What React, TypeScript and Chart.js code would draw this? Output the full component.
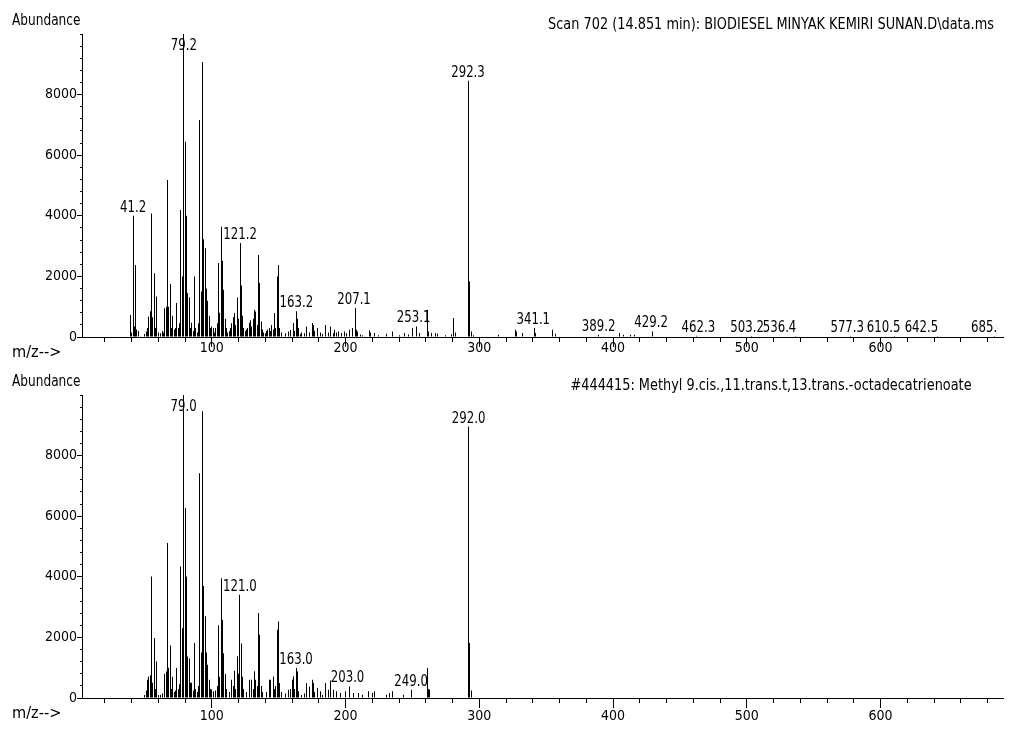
import React, { useEffect, useRef } from 'react';
import { Chart, registerables } from 'chart.js';

Chart.register(...registerables);

const FONT_FAMILY = "'DejaVu Sans Condensed', 'Liberation Sans Narrow', 'Arial Narrow', sans-serif";
const FONT_SIZE = 14;

const X_MIN = 3;
const X_MAX = 691.5;
const Y_MAX = 10000;
const X_TICK_STEP = 20;
const X_LABEL_STEP = 100;
const Y_TICK_STEP = 400;
const Y_LABEL_STEP = 2000;

// ---------- Top: sample scan ----------
const sampleTitle = 'Scan 702 (14.851 min): BIODIESEL MINYAK KEMIRI SUNAN.D\\data.ms';
const sampleMz = [
  39, 40, 41.2, 42, 43, 44, 45, 50, 51, 52, 53, 54, 55, 56, 57, 58, 59, 60, 62, 63, 64, 65, 66, 67, 68, 69,
  70, 71, 72, 73, 74, 75, 76, 77, 78, 79.2, 80, 81, 82, 83, 84, 85, 86, 87, 88, 89, 90, 91, 92, 93, 94, 95,
  96, 97, 98, 99, 100, 101, 102, 103, 104, 105, 106, 107, 108, 109, 110, 111, 112, 113, 114, 115, 116, 117,
  118, 119, 120, 121.2, 122, 123, 124, 125, 126, 127, 128, 129, 130, 131, 132, 133, 134, 135, 136, 137, 138,
  139, 140, 141, 142, 143, 144, 145, 146, 147, 148, 149, 150, 151, 152, 155, 157, 159, 161, 162, 163.2, 164,
  165, 166, 167, 169, 171, 173, 175, 176, 177, 179, 181, 183, 185, 187, 189, 191, 192, 193, 195, 197, 199,
  201, 203, 205, 207.1, 208, 209, 211, 213, 218, 219, 222, 225, 231, 235, 240, 244, 247, 250, 253.1, 255,
  261, 262, 264, 267, 269, 275, 279, 281, 282, 292.3, 293, 294, 296, 314, 327, 328, 332, 341.1, 342, 355,
  357, 389.2, 405, 408, 413, 416, 429.2, 462.3, 503.2, 536.4, 577.3, 610.5, 642.5, 685.4,
];
const sampleAbundance = [
  730, 150, 4000, 350, 2380, 250, 200, 100, 180, 300, 680, 850, 4080, 650, 2100, 300, 1340, 150, 120, 200, 150, 950, 1000, 5180, 1000, 1750,
  300, 700, 250, 300, 1120, 300, 450, 4190, 2000, 10000, 6440, 4000, 1450, 1300, 300, 470, 200, 2000, 300, 150, 450, 7160, 1500, 9080, 3230, 2930,
  1600, 1200, 700, 300, 350, 300, 150, 300, 450, 2440, 800, 3640, 2520, 1560, 600, 300, 150, 200, 300, 450, 650, 790,
  400, 1300, 600, 3100, 1700, 700, 300, 200, 250, 300, 470, 550, 350, 600, 900, 840, 400, 2710, 1780, 515, 250,
  150, 120, 200, 250, 296, 200, 400, 250, 790, 300, 2000, 2380, 296, 150, 120, 185, 230, 460, 200, 850, 600,
  300, 100, 150, 120, 350, 150, 460, 400, 200, 296, 150, 100, 400, 150, 350, 120, 240, 150, 185, 130, 185,
  120, 240, 296, 955, 240, 185, 80, 60, 220, 150, 130, 60, 110, 185, 60, 130, 80, 296, 350, 130,
  900, 185, 130, 130, 110, 60, 90, 625, 150, 8460, 1830, 185, 60, 76, 240, 185, 130, 296, 130, 240,
  110, 76, 130, 76, 76, 76, 185, 40, 30, 30, 30, 30, 30, 30,
];
const sampleLabelMz = [41.2, 79.2, 121.2, 163.2, 207.1, 253.1, 292.3, 341.1, 389.2, 429.2, 462.3, 503.2, 536.4, 577.3, 610.5, 642.5, 685.4];
const sampleLabelNudge = [0, 0, 0, 0, -1, -3, -1, -1, 0, -1, 2, -4, -16, -3, -11, -16, -7];

// ---------- Bottom: library spectrum ----------
const libraryTitle = '#444415: Methyl 9.cis.,11.trans.t,13.trans.-octadecatrienoate';
const libraryMz = [
  50, 51, 52, 53, 54, 55, 56, 57, 58, 59, 60, 62, 63, 65, 66, 67, 68, 69, 70, 71, 72, 73, 74, 75, 76, 77, 78,
  79, 80, 81, 82, 83, 84, 85, 86, 87, 88, 89, 90, 91, 92, 93, 94, 95, 96, 97, 98, 99, 100, 101, 103, 104,
  105, 106, 107, 108, 109, 110, 111, 113, 115, 116, 117, 118, 119, 120, 121, 122, 123, 124, 126, 128, 130,
  131, 132, 133, 134, 135, 136, 137, 138, 141, 143, 144, 146, 147, 148, 149, 150, 151, 152, 155, 157, 159,
  160, 161, 162, 163, 164, 165, 167, 169, 171, 173, 175, 176, 177, 179, 181, 183, 185, 187, 189, 191, 193,
  196, 200, 203, 206, 210, 213, 217, 220, 222, 231, 233, 235, 243, 249, 261, 262, 263, 292, 293, 294,
];
const libraryAbundance = [
  100, 250, 600, 713, 750, 4013, 500, 1980, 300, 1208, 100, 110, 150, 800, 878, 5115, 1000, 1730, 300, 700, 200, 250, 990, 300, 450, 4340, 2300,
  10000, 6270, 4010, 1370, 1300, 500, 500, 250, 1815, 300, 200, 400, 7420, 1500, 9460, 3700, 2700, 1500, 1100, 600, 300, 280, 220, 250, 400,
  2400, 700, 3950, 2584, 1480, 800, 300, 200, 600, 400, 900, 300, 1380, 800, 3410, 1800, 700, 300, 200, 600, 600,
  300, 880, 600, 400, 2805, 2090, 400, 200, 200, 600, 600, 710, 300, 400, 2254, 2528, 495, 200, 150, 274, 300,
  604, 713, 300, 990, 878, 220, 100, 150, 495, 380, 604, 495, 200, 330, 220, 100, 495, 274, 580, 274, 220,
  165, 220, 380, 165, 165, 110, 220, 165, 220, 110, 165, 220, 110, 274, 990, 300, 280, 8960, 1815, 250,
];
const libraryLabelMz = [79.0, 121.0, 163.0, 203.0, 249.0, 292.0];
const libraryLabelNudge = [0, 0, 0, -2, 0, 0];

const TITLE_CENTER_X = 771;

type SpecProps = {
  height: number;
  chartTop: number;
  xAxisHeight: number;
  xLabelPad: number;
  mz: number[];
  abundance: number[];
  labelMz: number[];
  labelNudge: number[];
  title: string;
};

const alignPx = (p: number) => Math.round(p - 0.5) + 0.5;

function drawText(
  ctx: CanvasRenderingContext2D,
  text: string,
  x: number,
  y: number,
  align: CanvasTextAlign,
  size: number,
  scaleX: number
) {
  ctx.save();
  ctx.font = `${size}px ${FONT_FAMILY}`;
  ctx.textAlign = align;
  ctx.textBaseline = 'alphabetic';
  ctx.translate(x, y);
  ctx.scale(scaleX, 1);
  ctx.fillText(text, 0, 0);
  ctx.restore();
}

const decorPlugin = {
  id: 'spectrumDecor',
  afterDatasetsUpdate(chart: any) {
    const meta = chart.getDatasetMeta(0);
    meta.data.forEach((el: any) => {
      el.x = Math.floor(el.x) + 0.5;
    });
  },
  afterDraw(chart: any) {
    const opts = chart.options.plugins.spectrumDecor;
    const { ctx, chartArea } = chart;
    const xs = chart.scales.x;
    const ys = chart.scales.y;
    ctx.save();
    ctx.strokeStyle = '#000';
    ctx.fillStyle = '#000';
    ctx.lineWidth = 1;
    // longer major tick marks
    ctx.beginPath();
    xs.ticks.forEach((t: any) => {
      if (t.value % X_LABEL_STEP === 0) {
        const px = alignPx(xs.getPixelForValue(t.value));
        ctx.moveTo(px, chartArea.bottom + 4);
        ctx.lineTo(px, chartArea.bottom + 10);
      }
    });
    ys.ticks.forEach((t: any) => {
      if (t.value % Y_LABEL_STEP === 0 && t.value < Y_MAX) {
        const py = alignPx(ys.getPixelForValue(t.value));
        ctx.moveTo(chartArea.left - 5, py);
        ctx.lineTo(chartArea.left - 1, py);
      }
    });
    ctx.stroke();

    // axis captions
    drawText(ctx, 'Abundance', 12, chartArea.top - 9, 'left', 15, 0.9);
    drawText(ctx, 'm/z-->', 12, chartArea.bottom + 20, 'left', 15, 1.08);
    // title
    drawText(ctx, opts.title, TITLE_CENTER_X, chartArea.top - 5, 'center', 15, 0.955);

    // peak labels
    ctx.save();
    ctx.beginPath();
    ctx.rect(0, 0, 998, chart.height);
    ctx.clip();
    opts.labelMz.forEach((m: number, i: number) => {
      const idx = opts.mz.indexOf(m);
      const val = idx >= 0 ? opts.abundance[idx] : 0;
      const top = ys.getPixelForValue(Math.min(val, Y_MAX));
      const base = Math.max(top - 4, chartArea.top + 16);
      const x = xs.getPixelForValue(m) + (opts.labelNudge[i] || 0);
      drawText(ctx, m.toFixed(1), x, base, 'center', 15, 0.87);
    });
    ctx.restore();
    ctx.restore();
  },
};

function Spectrum(props: SpecProps) {
  const ref = useRef<HTMLCanvasElement>(null);
  useEffect(() => {
    const canvas = ref.current;
    if (!canvas) return;
    const tickFont = { family: FONT_FAMILY, size: FONT_SIZE };
    const chart = new Chart(canvas, {
      type: 'bar',
      data: {
        datasets: [
          {
            data: props.mz.map((m, i) => ({ x: m, y: props.abundance[i] })),
            backgroundColor: '#000',
            borderWidth: 0,
            barThickness: 1,
            inflateAmount: 0,
            grouped: false,
          } as any,
        ],
      },
      options: {
        animation: false,
        responsive: false,
        devicePixelRatio: 1,
        events: [],
        layout: { padding: { top: props.chartTop, right: 7, left: 0, bottom: 0 } },
        plugins: {
          legend: { display: false },
          tooltip: { enabled: false },
          spectrumDecor: {
            title: props.title,
            mz: props.mz,
            abundance: props.abundance,
            labelMz: props.labelMz,
            labelNudge: props.labelNudge,
          },
        } as any,
        scales: {
          x: {
            type: 'linear',
            min: X_MIN,
            max: X_MAX,
            offset: false,
            grid: {
              display: true,
              drawOnChartArea: false,
              drawTicks: true,
              tickLength: 5,
              tickColor: '#000',
              tickWidth: 1,
              offset: false,
            },
            border: { display: true, color: '#000', width: 1 },
            ticks: {
              stepSize: X_TICK_STEP,
              autoSkip: false,
              maxRotation: 0,
              minRotation: 0,
              includeBounds: false,
              padding: props.xLabelPad,
              color: '#000',
              font: tickFont,
              callback: (v: any) => (Number(v) % X_LABEL_STEP === 0 ? String(v) : ''),
            },
            afterFit: (s: any) => {
              s.height = props.xAxisHeight;
            },
          } as any,
          y: {
            type: 'linear',
            min: 0,
            max: Y_MAX,
            grid: {
              display: true,
              drawOnChartArea: false,
              drawTicks: true,
              tickLength: 2,
              tickColor: '#000',
              tickWidth: 1,
            },
            border: { display: true, color: '#000', width: 1 },
            ticks: {
              stepSize: Y_TICK_STEP,
              autoSkip: false,
              padding: 3,
              color: '#000',
              font: tickFont,
              callback: (v: any) => (Number(v) % Y_LABEL_STEP === 0 && Number(v) < Y_MAX ? String(v) : ''),
            },
            afterFit: (s: any) => {
              s.width = 82;
            },
          } as any,
        },
      },
      plugins: [decorPlugin as any],
    });
    return () => chart.destroy();
  }, []);
  return (
    <canvas
      ref={ref}
      width={1010}
      height={props.height}
      style={{ display: 'block', width: 1010, height: props.height }}
    />
  );
}

export default function App() {
  return (
    <div style={{ position: 'absolute', left: 0, top: 0, width: 1010, height: 731, background: '#fff' }}>
      <Spectrum
        height={365}
        chartTop={34}
        xAxisHeight={28}
        xLabelPad={-2}
        mz={sampleMz}
        abundance={sampleAbundance}
        labelMz={sampleLabelMz}
        labelNudge={sampleLabelNudge}
        title={sampleTitle}
      />
      <Spectrum
        height={366}
        chartTop={30}
        xAxisHeight={33}
        xLabelPad={5}
        mz={libraryMz}
        abundance={libraryAbundance}
        labelMz={libraryLabelMz}
        labelNudge={libraryLabelNudge}
        title={libraryTitle}
      />
    </div>
  );
}
